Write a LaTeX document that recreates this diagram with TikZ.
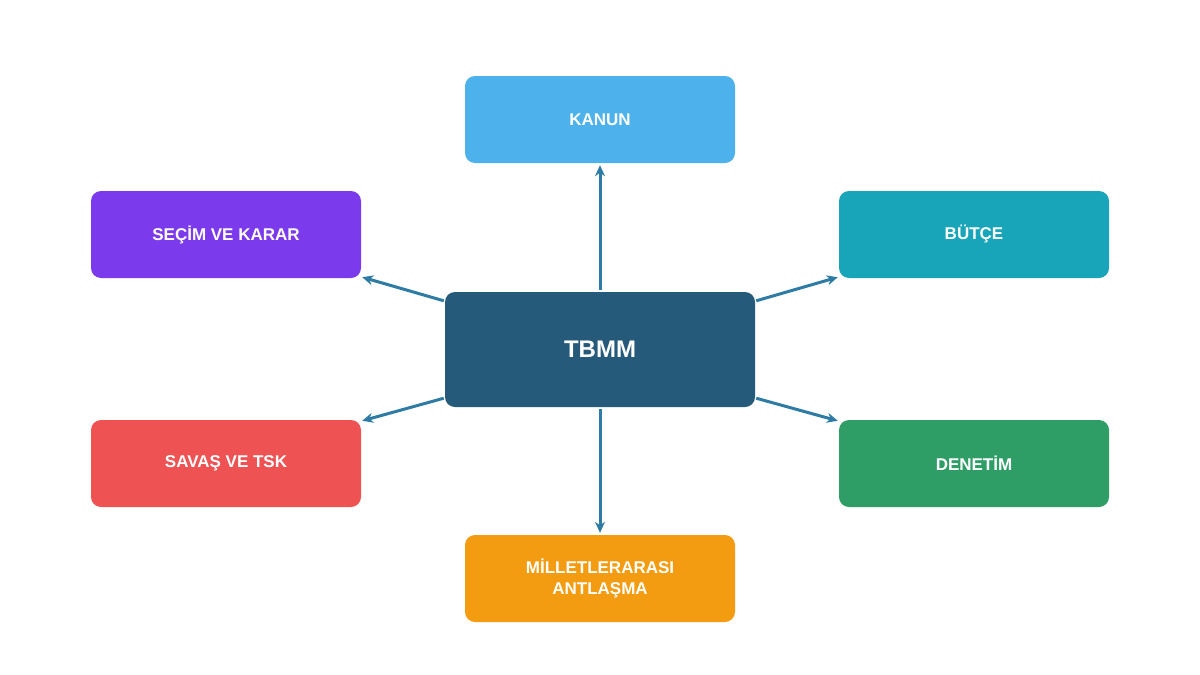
\documentclass[tikz,border=0pt]{standalone}
\usepackage{fontspec}
\setmainfont{Liberation Sans}
\usetikzlibrary{calc,arrows.meta}
\definecolor{cTB}{HTML}{255A7A}
\definecolor{cKA}{HTML}{4DB1EB}
\definecolor{cSE}{HTML}{7C3AED}
\definecolor{cBU}{HTML}{18A4B9}
\definecolor{cSA}{HTML}{EE5253}
\definecolor{cDE}{HTML}{2E9E66}
\definecolor{cMI}{HTML}{F39C12}
\definecolor{cAR}{HTML}{2E7CA6}
\begin{document}
\begin{tikzpicture}[x=1pt,y=-1pt,
  box/.style={rounded corners=10pt,minimum width=270pt,minimum height=87pt,text=white,font=\bfseries\fontsize{17}{21}\selectfont,align=center,inner sep=0pt},
  arr/.style={draw=cAR,line width=3pt,-{Stealth[length=11pt,width=10pt]}}]
\fill[white] (0,0) rectangle (1200,675);
\useasboundingbox (0,0) rectangle (1200,675);
\node[box,fill=cTB,minimum width=310pt,minimum height=115pt,font=\bfseries\fontsize{24}{28}\selectfont] (t) at (600,349.5) {TBMM};
\node[box,fill=cKA] (k) at (600,119.5) {KANUN};
\node[box,fill=cSE] (s) at (226,234.5) {SEÇİM VE KARAR};
\node[box,fill=cBU] (b) at (974,234.5) {BÜTÇE};
\node[box,fill=cSA] (v) at (226,463.5) {SAVAŞ VE TSK};
\node[box,fill=cDE] (d) at (974,463.5) {DENETİM};
\node[box,fill=cMI] (m) at (600,578.5) {MİLLETLERARASI\\ANTLAŞMA};
\coordinate (tnw) at ($(t.north west)+(-1,9)$);
\coordinate (tne) at ($(t.north east)+(1,9)$);
\coordinate (tsw) at ($(t.south west)+(-1,-9)$);
\coordinate (tse) at ($(t.south east)+(1,-9)$);
\coordinate (snw) at ($(s.south east)+(1,-1)$);
\coordinate (bne) at ($(b.south west)+(-1,-1)$);
\coordinate (vsw) at ($(v.north east)+(1,1)$);
\coordinate (dse) at ($(d.north west)+(-1,1)$);
\draw[arr] ($(t.north)+(0,-2)$) -- ($(k.south)+(0,2)$);
\draw[arr] ($(t.south)+(0,2)$) -- ($(m.north)+(0,-2)$);
\draw[arr] (tnw) -- (snw);
\draw[arr] (tne) -- (bne);
\draw[arr] (tsw) -- (vsw);
\draw[arr] (tse) -- (dse);
\end{tikzpicture}
\end{document}
